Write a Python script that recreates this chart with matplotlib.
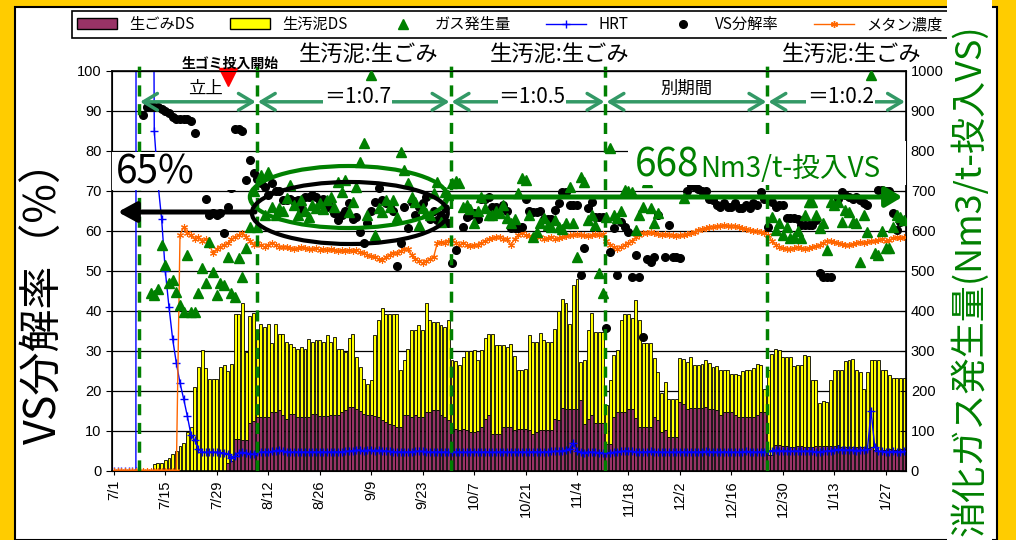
import numpy as np
import pandas as pd
import matplotlib
matplotlib.use('Agg')
import matplotlib.pyplot as plt
from matplotlib.patches import Patch, Rectangle, Ellipse
from matplotlib.lines import Line2D

plt.rcParams['font.family'] = ['Noto Sans CJK JP', 'DejaVu Sans']

nan = np.nan

# ---------------- data (daily, 7/1 .. 2/1) ----------------
dates = pd.date_range('2008-07-01', periods=216)
date_labels = [f"{d.month}/{d.day}" for d in dates]

# bar top (生ごみDS + 生汚泥DS)
total_ds = [
    0, 0, 0, 0, 0, 0, 0, 0, 0, 0,
    0, 1.7, 2, 2, 2.7, 3.3, 4.3, 5, 6.2, 7,
    9.7, 11, 21, 26, 30.3, 25.8, 23, 23, 23, 26,
    26.4, 25, 26.8, 39.3, 39.3, 42, 29.8, 38.7, 39.6, 34.5,
    36.8, 36, 36.8, 32, 36.8, 34.3, 34.3, 32.3, 31.8, 31,
    30.6, 31, 30.6, 33, 32.3, 32.7, 32.7, 32.3, 34, 32.3,
    33.5, 30.6, 30.6, 29.8, 33.3, 34.2, 28.5, 26, 23, 21.8,
    22.7, 33.9, 37.7, 40.8, 39.3, 39.3, 39.3, 39.3, 25.2, 27.7,
    30.6, 35.2, 35.2, 36.4, 35.2, 42, 37.7, 37.2, 37.2, 36.4,
    36, 37.8, 27.8, 27.5, 26.4, 28.5, 30, 30, 30.2, 27.8,
    30.2, 33.3, 34.2, 34.2, 31.4, 31.4, 31.4, 31, 31.8, 28.7,
    25.2, 25.2, 25.6, 33.9, 32.3, 32.3, 34.5, 32.7, 32.3, 32.3,
    35.6, 40, 43, 42, 36.8, 46.4, 48, 27.2, 27.8, 35.2,
    39.6, 34.7, 34.7, 34.7, 16.4, 22.7, 28.9, 30.2, 37.8, 39.3,
    39.3, 38.3, 42.7, 37.8, 32, 32, 32, 28.3, 24.75, 19.5,
    22.25, 18.1, 18.1, 18.1, 28.3, 28, 27.25, 28.5, 26.4, 26.4,
    26.8, 27.7, 27, 26, 26.2, 25.2, 25.2, 25.2, 24.3, 24.2,
    23.9, 25, 25.3, 25.3, 25.8, 26.7, 26.4, 20.6, 25.3, 29.2,
    30.6, 30.2, 28.5, 28.5, 28.5, 26.2, 26.4, 26.4, 28.9, 28.7,
    22.8, 22.8, 17, 17.5, 17.25, 22.7, 25.3, 25.2, 25.2, 27.5,
    27.8, 28, 25.2, 24.75, 20.6, 24.75, 27.7, 27.7, 27.7, 25.2,
    25.3, 23.9, 23.25, 23.25, 23.3, 23.3,
]

garbage_ds = [
    0, 0, 0, 0, 0, 0, 0, 0, 0, 0,
    0, 0, 0, 0, 0, 0, 0, 0, 0, 0,
    0, 0, 0, 0, 0, 0, 0, 0, 0, 0,
    0, 2, 2.5, 8, 8, 7.8, 7.8, 12, 12.5, 13.5,
    13.5, 13.5, 13.5, 14.7, 14.7, 15.2, 14, 13, 14.3, 14.3,
    13.5, 13.5, 13.5, 13.5, 14.3, 14.3, 13.8, 13.8, 13.8, 14,
    14, 14, 14.7, 15.2, 16, 16, 15.6, 15, 14.3, 14,
    14, 13.8, 13.5, 12.7, 12.2, 11.8, 11.4, 11, 11, 13.9,
    13.9, 13.5, 13.9, 13.5, 13.5, 14.7, 14.7, 15.2, 15.2, 13.9,
    13.5, 12.7, 11, 10.5, 10.2, 10.5, 10.2, 9.75, 9.75, 10,
    11, 13, 13.9, 9.2, 9.2, 9.2, 11, 11, 11, 10.3,
    10.6, 10.6, 10.6, 10.3, 9.3, 9.75, 10.2, 10.2, 10.2, 10.2,
    13, 12.7, 15.8, 15.6, 15.6, 15.6, 15.6, 17.8, 11.7, 13,
    13.9, 12, 12, 12, 6.8, 6.8, 13.6, 14.75, 14.75, 14.75,
    15.6, 15.6, 13.3, 11, 11, 11, 11, 13.5, 12.7, 9.75,
    10.2, 8.5, 8.5, 8.5, 17.25, 16.7, 15.6, 15.8, 15.8, 15.8,
    15.8, 16, 15.6, 15.6, 15.2, 13.9, 14.75, 14.75, 14.75, 13.9,
    13.5, 13.5, 13.5, 13.5, 13.5, 13.9, 14.75, 14.75, 3.9, 3.9,
    6.6, 6.6, 6.3, 6.3, 6, 6, 6.3, 6.3, 6, 6,
    6, 6.3, 6.3, 6.3, 6.3, 6.3, 6.3, 6.6, 6, 6,
    6, 6, 6, 6, 6, 5.8, 6, 5.3, 5, 5.3,
    5.3, 5.5, 5.3, 5.3, 5.6, 5.6,
]

# ガス発生量 (Nm3/t-投入VS), right axis
gas = [
    nan, nan, nan, nan, nan, nan, nan, nan, nan, nan,
    445, 440, 455, 565, 515, 470, 477, 447, 415, 397,
    540, 397, 397, 445, 507, 470, 572, 497, 440, 470,
    465, 535, 445, 435, 532, 485, 557, 610, 700, 610,
    740, 640, 747, 660, 640, 657, 650, 682, 715, 665,
    640, 677, 650, 635, 665, 657, 670, 655, 677, 685,
    660, 722, 697, 727, 647, 672, 710, 772, 820, 640,
    990, 590, 657, 647, 677, 660, 677, 635, 797, 752,
    720, 685, 672, 615, 657, 645, 640, 695, 722, 622,
    697, 690, 720, 725, 720, 660, 665, 655, 620, 650,
    685, 657, 640, 640, 650, 645, 665, 632, 620, 630,
    695, 732, 727, 640, 585, 597, 620, 632, 615, 610,
    627, 610, 605, 620, 710, 620, 535, 735, 722, 627,
    640, 615, 495, 445, 635, 807, 640, 632, 650, 702,
    700, 697, 602, 640, 660, 722, 657, 620, 645, nan,
    nan, nan, nan, nan, nan, 682, nan, nan, nan, nan,
    nan, nan, nan, nan, nan, nan, nan, nan, nan, nan,
    nan, nan, nan, nan, nan, nan, nan, nan, nan, 635,
    602, 620, 590, 610, 582, 585, 600, 582, 640, 672,
    672, 640, 607, 620, 552, 672, 665, 672, 622, 652,
    647, 622, 620, 522, 640, 597, 990, 545, 540, 600,
    557, 557, 610, 640, 635, 627,
]

# HRT (day), left axis
hrt = [
    0, 0, 0, 0, 0, 0, 0, 3000, 2000, 900,
    300, 85, 72, 63, 50, 41, 33, 27, 22, 18,
    13.7, 9, 7.7, 5.5, 4.75, 4.7, 4.75, 4.7, 4.75, 4.6,
    4.5, 4.2, 3.3, 3.8, 4.6, 4.7, 4.5, 4.3, 4.2, 4.8,
    4.75, 4.8, 4.75, 4.9, 5.1, 5.2, 5.0, 4.8, 4.75, 4.75,
    4.75, 4.8, 4.75, 4.75, 4.8, 4.75, 4.75, 4.8, 4.75, 4.75,
    4.8, 4.75, 4.8, 4.9, 5.0, 5.1, 5.2, 5.2, 5.1, 5.2,
    5.2, 5.1, 5.2, 5.1, 5.0, 4.9, 4.8, 4.75, 4.8, 4.75,
    4.75, 4.8, 4.9, 5.0, 4.9, 4.8, 4.75, 4.75, 4.8, 4.75,
    4.75, 4.7, 4.75, 4.8, 4.75, 4.7, 4.75, 4.75, 4.8, 4.75,
    4.75, 4.8, 4.75, 4.7, 4.75, 4.75, 4.8, 4.75, 4.75, 4.7,
    4.75, 4.8, 4.75, 4.75, 4.8, 4.8, 4.75, 4.75, 4.8, 4.9,
    4.9, 5.0, 5.0, 5.2, 5.6, 7.0, 5.0, 4.7, 4.6, 4.75,
    4.75, 4.7, 4.6, 4.6, 4.6, 4.6, 4.7, 4.8, 4.9, 5.0,
    5.0, 4.9, 4.8, 4.75, 4.75, 4.8, 4.9, 4.8, 4.75, 4.75,
    4.75, 4.7, 4.75, 4.75, 4.8, 4.75, 4.75, 4.8, 4.75, 4.75,
    4.8, 4.9, 4.8, 4.75, 4.75, 4.75, 4.8, 4.75, 4.75, 4.7,
    4.75, 4.8, 4.9, 4.8, 4.75, 4.75, 4.8, 4.75, 5.0, 5.1,
    5.2, 5.1, 5.0, 5.0, 4.9, 5.0, 5.0, 4.9, 5.0, 5.0,
    4.9, 4.8, 4.8, 4.9, 5.0, 5.1, 5.2, 5.4, 5.3, 5.2,
    5.3, 5.2, 5.1, 5.2, 5.2, 5.4, 15, 6.0, 5.0, 4.9,
    4.8, 4.8, 4.9, 4.8, 4.8, 4.9,
]

# VS分解率 (%), left axis
vs_rate = [
    nan, nan, nan, nan, nan, nan, nan, nan, 89, 91,
    91, 91, 91, 90.5, 90, 89.5, 88.5, 88, 88, 88,
    88, 87.5, 84.5, nan, nan, 68, 64, 64.5, 64, 64.5,
    59.5, 66, 70.7, 85.5, 85.5, 85, 72.7, 77.7, 74.5, 73,
    72, 71, 69, 72, 70, 70, 67.7, 67.7, 68, 67.5,
    67.7, 65.5, 68.5, 68.5, 69, 68.5, 67.5, 68, 66, 66,
    64.5, 62.7, 64, 65, 67, 63, 63.5, 59.7, 57, 62,
    65, 67.2, 70.7, 67.7, 67, 66.5, 65, 51.2, 57, 66,
    60.7, 67.2, 64, 66, 67, 68.5, 63, 65, 62.7, 64,
    65.7, 62, 52, 55.2, nan, 61, 63.5, 64, 64.5, 63,
    68, 68, 68.5, 66, 66, 65.5, 66.5, 65, 60.7, 60.7,
    60.7, 61, 68, 65, 64.7, 64.7, 65, 63, 63, 63,
    65.2, 67, 69.7, 69.7, 66.5, 66.5, 66.5, 49, 55.7, 65.7,
    67.2, 63.5, 63.5, 63.5, 35.7, 54.7, 60.7, 49, 62.2, 61,
    59.7, 48.5, 54, 48.5, 33.5, 53, 52.2, 53.5, 64, nan,
    53.5, 61.5, 53.5, 53.5, 53.2, nan, 70, 71.5, 71, 70.5,
    70, 70, 68, 67.7, 66.5, 66, 67, 66, 66, 67,
    65.7, 65.7, 66.5, 65.7, 67, 66.5, 69.7, 68, 61, 67.2,
    66, 66.5, 66.5, 63.2, 63.2, 63.2, 63, 61.5, 61.5, 61.5,
    61.5, 62.7, 49.5, 48.5, 48.5, 48.5, nan, 68, 69.7, 69,
    68.5, 68, 68.5, 67.7, 67, 66.5, nan, nan, 70.2, 70.2,
    70, 70, 64.5, 60.2, 62.2, nan,
]

# メタン濃度 (%), left axis
methane = [
    0, 0, 0, 0, 0, 0, 0, 0, 0, 0,
    0, 0, 0, 0, 0, 0, 0, 0, 59, 61,
    59.5, 59, 58, 58.5, 57.5, 58, 56.5, 54.5, 55.5, 56,
    56.5, 57, 58, 58.5, 59, 59.5, 58.5, 57.5, 56.5, 57,
    56.5, 56, 56.5, 57, 56.5, 56, 56, 56, 55.7, 55.5,
    55.7, 56, 55.7, 55.5, 55.5, 55.7, 55.3, 55.5, 55.3, 55.5,
    55.3, 55, 55.2, 55, 55.3, 55, 55.2, 54.7, 54.5, 54,
    53.7, 53.5, 53, 52.7, 53.5, 54, 54.5, 54.5, 55, 55.5,
    55.5, 54, 53, 52.5, 52, 52.5, 53, 53.5, 57, 57.2,
    57, 57.5, 57.7, 57, 56.5, 57, 56.5, 56.2, 56.5, 56.5,
    57, 57.5, 58, 58.2, 58.5, 58.5, 58, 58, 56.5, 58,
    59, 59.5, 59, 58.7, 58.5, 58.7, 58.5, 58, 58.2, 58.5,
    58, 58.3, 58.5, 58.7, 59, 59, 59.2, 59, 59, 58.7,
    59, 59.2, 59, 59.3, 57.5, 56.5, 56, 55.5, 56, 56.5,
    57, 57.5, 58.5, 59, 59.5, 59.5, 59.7, 59.5, 59.3, 59,
    59.2, 59, 59, 58.8, 59, 59, 59.2, 59.5, 59.8, 60.2,
    60.5, 60.7, 61, 61, 61.2, 61.3, 61.5, 61.3, 61.2, 61.3,
    61, 60.7, 60.5, 60.3, 60, 60, 59.7, 59.5, 59, 57.5,
    56.5, 56, 55.7, 55.5, 55.5, 55.7, 56, 55.8, 55.5, 55.7,
    56, 56.3, 56.5, 57, 57.5, 57.5, 57.3, 57, 56.8, 56.5,
    56.5, 56.8, 57, 57.3, 57, 57.2, 57.5, 57.5, 57.8, 58,
    57.5, 57.8, 58.2, 58.5, 58.3, 58.5,
]

# phase boundaries (day index) and phase labels
phase_bounds = [6.85, 38.9, 91.6, 133.75, 177.8, 215.5]
phase_labels = ['立上', '＝1:0.7', '＝1:0.5', '別期間', '＝1:0.2']
ratio_title = '生汚泥:生ごみ'
start_day = 31            # 生ゴミ投入開始
vs_avg_label = '65%'
gas_avg_value = 668

for arr in (total_ds, garbage_ds, gas, hrt, vs_rate, methane):
    assert len(arr) == len(dates), len(arr)

x = np.arange(len(dates))
total_ds = np.array(total_ds, dtype=float)
garbage_ds = np.array(garbage_ds, dtype=float)
sludge_ds = total_ds - garbage_ds

# ---------------- figure ----------------
W, H = 1016, 540
fig = plt.figure(figsize=(W / 100, H / 100), dpi=100)
fig.patch.set_facecolor('#FFCC00')


def fx(px):
    return px / W


def fy(py):
    return 1 - py / H


fig.add_artist(Rectangle((fx(15), 0), fx(997) - fx(15), fy(7), transform=fig.transFigure,
                         facecolor='white', edgecolor='black', lw=1.5, zorder=-5))

ax = fig.add_axes([fx(112), fy(471), fx(906) - fx(112), fy(71) - fy(471)])
ax2 = ax.twinx()

# bars
ax.bar(x, garbage_ds, width=0.8, color='#993366', edgecolor='black', lw=0.6, zorder=2)
ax.bar(x, sludge_ds, bottom=garbage_ds, width=0.8, color='#FFFF00', edgecolor='black', lw=0.6, zorder=2)

# lines / points on left axis
ax.plot(x, hrt, color='#0000FF', lw=1.0, marker='+', ms=6, mew=1.0, zorder=3)
ax.plot(x, methane, color='#FF6600', lw=1.0, marker=(6, 2, 0), ms=5, mew=0.8, zorder=3)
ax.plot(x, vs_rate, ls='none', marker='o', color='black', ms=5.5, zorder=4)

for xb in phase_bounds[:-1]:
    ax.axvline(xb, ymin=0, ymax=1.015, color='#008000', lw=2.5, ls=(0, (3.2, 2.2)),
               zorder=5, clip_on=False)

ax.set_xlim(-0.5, len(dates) - 0.5)
ax.set_ylim(0, 100)
ax.set_yticks(range(0, 101, 10))
ax.set_xticks(x[::14])
ax.set_xticklabels(date_labels[::14], rotation=90, fontsize=10.5, family='Liberation Sans')
for lab in ax.get_yticklabels():
    lab.set_family('Liberation Sans')
ax.tick_params(axis='y', labelsize=10.5, direction='out', length=4)
ax.tick_params(axis='x', direction='out', length=3)
ax.yaxis.grid(True, color='black', lw=0.9)
ax.set_axisbelow(True)
for s in ax.spines.values():
    s.set_linewidth(1.2)

# gas on right axis
ax2.plot(x, gas, ls='none', marker='^', color='#008000', ms=7, zorder=3)
ax2.set_ylim(0, 1000)
ax2.set_yticks(range(0, 1001, 100))
ax2.tick_params(axis='y', labelsize=10.5, direction='in', length=4)
for lab in ax2.get_yticklabels():
    lab.set_family('Liberation Sans')

T = ax.transData

# phase arrows and labels
arrow_y = 92.3
for i, lab in enumerate(phase_labels):
    a, b = phase_bounds[i], phase_bounds[i + 1]
    ax2.annotate('', xy=(a + 0.3, arrow_y), xytext=(b - 0.3, arrow_y), xycoords=T, textcoords=T,
                 arrowprops=dict(arrowstyle='<->,head_length=0.5,head_width=0.3', color='#339966',
                                 lw=2.5, shrinkA=0, shrinkB=0, mutation_scale=20), zorder=8)
    mid = (a + b) / 2
    if lab.startswith('＝'):
        ax2.text(mid + 1, arrow_y + 1.2, lab, transform=T, ha='center', va='center', fontsize=15,
                 bbox=dict(fc='white', ec='none', pad=0.5), zorder=9, clip_on=False)
    else:
        ax2.text(mid + (2 if i == 0 else 0), arrow_y + 3.3, lab, transform=T, ha='center',
                 va='center', fontsize=12.5, zorder=9)

# ellipses
ax2.add_patch(Ellipse((63.9, 68.5), 53.8, 15.5, transform=T, fill=False, ec='#008000', lw=3, zorder=7))
ax2.add_patch(Ellipse((64.2, 64.5), 53.3, 15.5, transform=T, fill=False, ec='black', lw=3, zorder=7))

# 65% box + arrow
ax2.add_patch(Rectangle((-0.5, 70.25), 34.8, 9.5, transform=T, fc='white', ec='none', zorder=6))
ax2.text(11.2, 74.6, vs_avg_label, transform=T, fontsize=28, ha='center', va='center', zorder=7)
ax2.annotate('', xy=(1.1, 64.75), xytext=(38.4, 64.75), xycoords=T, textcoords=T,
             arrowprops=dict(arrowstyle='-|>,head_length=0.55,head_width=0.3', color='black',
                             lw=3.6, shrinkA=0, shrinkB=0, mutation_scale=20), zorder=8)

# 668 box + arrow
ax2.add_patch(Rectangle((140, 71.5), 75.5, 11, transform=T, fc='white', ec='none', zorder=6))
ax2.text(159.2, 73.6, str(gas_avg_value), transform=T, fontsize=28, ha='right', va='baseline',
         color='#008000', zorder=7)
ax2.text(159.4, 73.6, 'Nm3/t-投入VS', transform=T, fontsize=20, ha='left', va='baseline',
         color='#008000', zorder=7)
ax2.annotate('', xy=(214.5, 68.5), xytext=(91.4, 68.5), xycoords=T, textcoords=T,
             arrowprops=dict(arrowstyle='-|>,head_length=0.5,head_width=0.3', color='#008000',
                             lw=3.6, shrinkA=0, shrinkB=0, mutation_scale=20), zorder=8)

# start marker
ax.plot([start_day], [98.5], marker='v', color='red', ms=13, ls='none', clip_on=False, zorder=10)
fig.text(fx(230), fy(64), '生ゴミ投入開始', fontsize=10, fontweight='bold', ha='center', va='center')

# ratio titles above the plot
for px in (369, 560, 852):
    fig.text(fx(px), fy(54), ratio_title, fontsize=16, ha='center', va='center')

# axis labels
fig.text(fx(45), fy(292), 'VS分解率（%）', rotation=90, fontsize=31, ha='center', va='center')
fig.add_artist(Rectangle((fx(947), 0), fx(992) - fx(947), 1, transform=fig.transFigure,
                         fc='white', ec='none', zorder=10))
fig.text(fx(970), fy(280), '消化ガス発生量(Nm3/t-投入VS)', rotation=90, fontsize=26,
         color='#008000', ha='center', va='center', zorder=11)

# legend
handles = [
    Patch(facecolor='#993366', edgecolor='black'),
    Patch(facecolor='#FFFF00', edgecolor='black'),
    Line2D([], [], ls='none', marker='^', color='#008000', ms=7),
    Line2D([], [], color='#0000FF', lw=1, marker='+', ms=6),
    Line2D([], [], ls='none', marker='o', color='black', ms=5.5),
    Line2D([], [], color='#FF6600', lw=1, marker=(6, 2, 0), ms=5),
]
labels = ['生ごみDS', '生汚泥DS', 'ガス発生量', 'HRT', 'VS分解率', 'メタン濃度']
leg = fig.legend(handles, labels, loc='center', ncol=6, mode='expand',
                 bbox_to_anchor=(fx(72), fy(40), fx(948) - fx(72), fy(9) - fy(40)),
                 frameon=True, fancybox=False, edgecolor='black', framealpha=1,
                 fontsize=11, handlelength=2.6, borderaxespad=0, borderpad=0.35)
leg.get_frame().set_linewidth(1.2)

fig.savefig('out.png', dpi=100, facecolor=fig.get_facecolor())
